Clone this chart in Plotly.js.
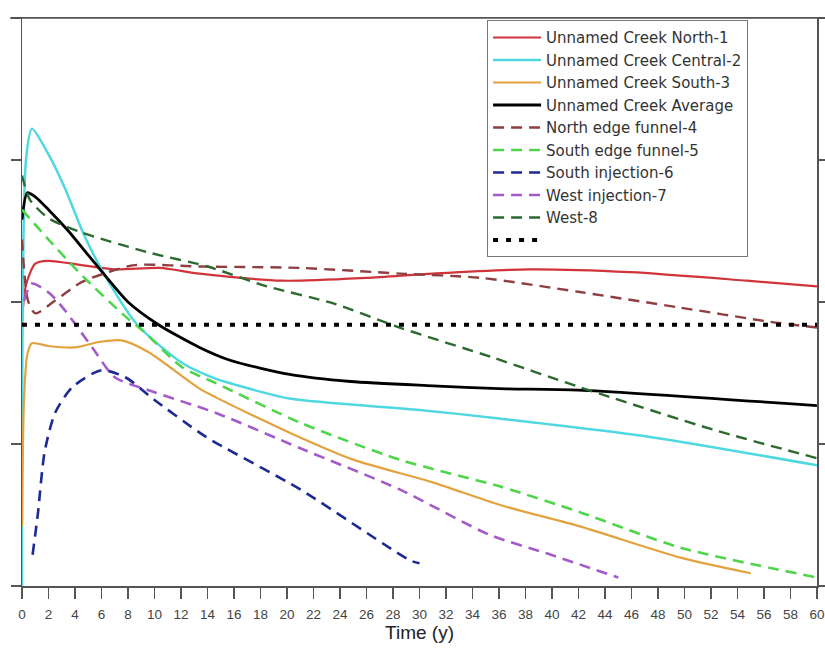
<!DOCTYPE html>
<html>
<head>
<meta charset="utf-8">
<script src="https://cdn.plot.ly/plotly-3.0.1.min.js"></script>
<style>html,body{margin:0;padding:0;background:#fff}#chart{width:825px;height:653px}</style>
</head>
<body>
<div id="chart"></div>
<script>
// Series data (time in years, relative value)
const tNorth = [0,0.3,1,2,4.5,7,10.4,13.4,19.7,26,31,38.3,45.9,54.7,60];
const vNorth = [18.7,21.2,22.7,22.9,22.6,22.3,22.4,22.0,21.5,21.7,22.0,22.3,22.1,21.5,21.1];

const tCentral = [0,0.3,0.75,2,3.25,4.6,6,8.7,12.1,14.6,16,20.2,30,36,47.4,60];
const vCentral = [0,30,32.2,30.4,28.0,24.9,22.3,18.4,15.7,14.6,14.2,13.2,12.4,11.8,10.5,8.5];

const tSouth = [0,0.15,0.4,0.75,2,4,5.9,7.5,9.5,13.4,14.6,20.2,25,31,36.1,42.1,49.7,55];
const vSouth = [4.2,13.1,16.3,17.1,16.9,16.8,17.2,17.3,16.5,13.9,13.3,10.8,8.9,7.3,5.7,4.2,2.0,0.9];

const tAverage = [0,0.4,1,2,3.5,5,6.5,8,10.3,13.4,15.7,20.2,24.8,31,36,42,60];
const vAverage = [25.8,27.7,27.4,26.5,25.0,23.3,21.6,20.0,18.4,16.8,15.9,14.9,14.4,14.1,13.9,13.8,12.7];

const tNorthEdge = [0,0.45,1,2.5,4.5,6.5,8.5,13.4,21,28.5,34.6,42.1,49.7,56.5,60];
const vNorthEdge = [24.4,20.1,19.2,20.1,21.4,22.1,22.6,22.5,22.4,22.0,21.7,20.7,19.6,18.6,18.2];

const tSouthEdge = [0,2,4.6,7.9,9.1,12.1,14.6,21,28.5,36.1,42.1,49.7,60];
const vSouthEdge = [26.5,24.4,21.8,18.9,18.0,15.4,14.3,11.5,8.9,7.0,5.2,2.7,0.6];

const tSouthInj = [0.8,1.2,1.7,2.5,3.8,6,7.8,10,13.4,14.6,21,29.3,30];
const vSouthInj = [2.2,5.1,9.4,12.2,14.0,15.2,14.7,13.1,10.8,10.1,6.8,1.8,1.6];

const tWestInj = [0.15,0.75,2.1,3.25,5.3,7,9.5,14.6,21,28.5,35.3,39.6,45];
const vWestInj = [20.1,21.3,20.6,19.4,16.8,14.7,13.8,12.2,9.7,6.8,3.6,2.3,0.6];

const tWest = [0,0.6,2,4.5,9.5,14,18.5,23.5,28.5,35.5,42.1,52.2,60];
const vWest = [28.9,27.2,25.9,24.9,23.5,22.5,21.1,19.9,18.2,16.1,14.0,11.0,9.0];

const tLimit = [0,60];
const vLimit = [18.4,18.4];

const xTicks = [0,2,4,6,8,10,12,14,16,18,20,22,24,26,28,30,32,34,36,38,40,42,44,46,48,50,52,54,56,58,60];

const dashed = '11px,7px';
function tr(name, x, y, color, dash, width){
  return {x:x, y:y, name:name, type:'scatter', mode:'lines',
    line:{color:color, width:width, dash:dash, shape:'spline', smoothing:0.7}};
}
const traces = [
  tr('Unnamed Creek North-1', tNorth, vNorth, '#d0343a', 'solid', 2.2),
  tr('Unnamed Creek Central-2', tCentral, vCentral, '#4fd8e0', 'solid', 2.5),
  tr('Unnamed Creek South-3', tSouth, vSouth, '#e3a23e', 'solid', 2.2),
  tr('Unnamed Creek Average', tAverage, vAverage, '#000000', 'solid', 2.8),
  tr('North edge funnel-4', tNorthEdge, vNorthEdge, '#8e3f42', dashed, 2.4),
  tr('South edge funnel-5', tSouthEdge, vSouthEdge, '#4fd54a', dashed, 2.6),
  tr('South injection-6', tSouthInj, vSouthInj, '#1c2a91', dashed, 2.6),
  tr('West injection-7', tWestInj, vWestInj, '#a45ac8', dashed, 2.6),
  tr('West-8', tWest, vWest, '#2d6a30', dashed, 2.4),
  {x:tLimit, y:vLimit, name:' ', type:'scatter', mode:'lines', line:{color:'#000', width:4, dash:'5px,8px'}}
];

const layout = {
  width:825, height:653,
  margin:{l:22, r:8, t:18, b:67},
  paper_bgcolor:'#fff', plot_bgcolor:'#fff',
  font:{family:'"Liberation Sans", Arial, sans-serif', color:'#333'},
  showlegend:true,
  legend:{x:0.585, y:0.996, xanchor:'left', yanchor:'top', bgcolor:'#fff', itemwidth:48,
    bordercolor:'#777', borderwidth:1, font:{size:15, color:'#333', family:'"DejaVu Sans", sans-serif'}},
  xaxis:{range:[0,60], tickvals:xTicks, ticktext:xTicks.map(String), ticks:'outside', ticklen:11, tickwidth:1.3,
    ticklabelstandoff:4,
    tickcolor:'#555', showline:true, linecolor:'#555', linewidth:1.5, mirror:true,
    showgrid:false, zeroline:false, tickfont:{size:13.5, color:'#444'},
    title:{text:'Time (y)', font:{size:19, color:'#222'}, standoff:5}},
  yaxis:{range:[0,40], dtick:10, ticks:'outside', ticklen:10, tickwidth:1.3, tickcolor:'#555',
    showline:true, linecolor:'#555', linewidth:1.5, mirror:'ticks', showticklabels:false,
    showgrid:false, zeroline:false},
  shapes:[{type:'line', xref:'paper', yref:'paper', x0:-0.015, x1:1.01, y0:1, y1:1,
    line:{color:'#555', width:1.5}}]
};
Plotly.newPlot('chart', traces, layout, {displayModeBar:false, staticPlot:true});
</script>
</body>
</html>
